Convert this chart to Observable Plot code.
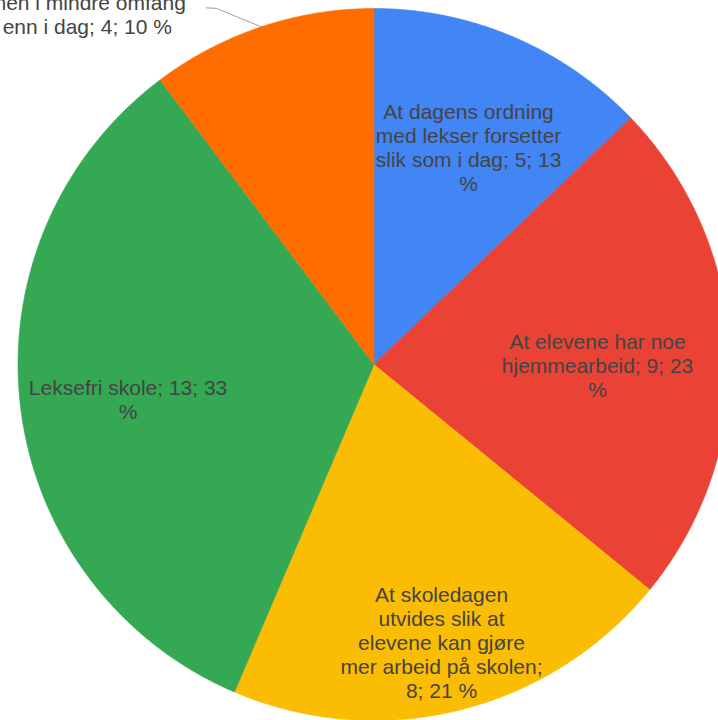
<!DOCTYPE html>
<html><head><meta charset="utf-8">
<script src="https://cdn.jsdelivr.net/npm/d3@7"></script>
<script src="https://cdn.jsdelivr.net/npm/@observablehq/plot@0.6"></script>
<style>html,body{margin:0;padding:0;background:#fff;overflow:hidden}</style>
</head><body><div id="chart"></div>
<script>
// ---- data ----
const categories = [
  "At dagens ordning med lekser forsetter slik som i dag",
  "At elevene har noe hjemmearbeid",
  "At skoledagen utvides slik at elevene kan gjøre mer arbeid på skolen",
  "Leksefri skole",
  "At det gis lekser, men i mindre omfang enn i dag"
];
const counts = [5, 9, 8, 13, 4];
const percents = [13, 23, 21, 33, 10];
const colors = ["#4285F4", "#EA4335", "#FBBC04", "#34A853", "#FF6D01"];

// ---- layout ----
const W = 718, H = 720;
const CX = 373.5, CY = 364, R = 356;
const FONT = 21, LH = 24;
const FAMILY = '"Liberation Sans", Arial, Helvetica, sans-serif';
const labelLayout = [
  {inside: true, radius: 0.664, shift: 0.5, wrap: 195},
  {inside: true, radius: 0.628, shift: 2.7, wrap: 195},
  {inside: true, radius: 0.807, shift: 0.25, wrap: 203.5},
  {inside: true, radius: 0.698, shift: -1.3, wrap: 210},
  {inside: false, wrap: 200, elbow: [-45, -18.5], end: [-10, -0.5], textDx: -119, lastLineDy: 19.3}
];

const ctx = document.createElement("canvas").getContext("2d");
ctx.font = `${FONT}px ${FAMILY}`;
function wrap(text, maxW) {
  const words = text.split(" ");
  const lines = []; let cur = "";
  for (const w of words) {
    const t = cur ? cur + " " + w : w;
    if (cur && ctx.measureText(t).width > maxW) { lines.push(cur); cur = w; } else cur = t;
  }
  if (cur) lines.push(cur);
  return lines;
}

const arcs = d3.pie().sort(null).value(d => d)(counts);
const polar = (a, r) => [CX + r * Math.sin(a), CY - r * Math.cos(a)];

const slices = [];
const textLines = [];
const leaders = [];
arcs.forEach((arc, i) => {
  const cat = categories[i];
  slices.push({cat, x: CX, y: CY});
  const n = Math.max(2, Math.ceil((arc.endAngle - arc.startAngle) / (Math.PI / 720)));
  for (let k = 0; k <= n; k++) {
    const a = arc.startAngle + (arc.endAngle - arc.startAngle) * k / n;
    const [x, y] = polar(a, R);
    slices.push({cat, x, y});
  }
  slices.push({cat, x: CX, y: CY});

  const L = labelLayout[i];
  const mid = (arc.startAngle + arc.endAngle) / 2;
  const lines = wrap(`${cat}; ${counts[i]}; ${percents[i]} %`, L.wrap);
  if (L.inside) {
    const [lx, ly] = polar(mid + L.shift * Math.PI / 180, R * L.radius);
    lines.forEach((t, j) => textLines.push({x: lx, y: ly + (j - (lines.length - 1) / 2) * LH, t}));
  } else {
    const [sx, sy] = polar(mid, R);
    const ex = sx + L.elbow[0], ey = sy + L.elbow[1];
    const fx = ex + L.end[0], fy = ey + L.end[1];
    leaders.push({x: sx, y: sy}, {x: ex, y: ey}, {x: fx, y: fy});
    const lx = fx + L.textDx, lastY = fy + L.lastLineDy;
    lines.forEach((t, j) => textLines.push({x: lx, y: lastY - (lines.length - 1 - j) * LH, t}));
  }
});

const chart = Plot.plot({
  width: W, height: H, margin: 0,
  x: {domain: [0, W], axis: null},
  y: {domain: [0, H], range: [0, H], axis: null},
  color: {domain: categories, range: colors},
  style: {fontFamily: FAMILY, background: "white", overflow: "visible"},
  marks: [
    Plot.line(slices, {x: "x", y: "y", z: "cat", fill: "cat", stroke: "cat", strokeWidth: 0.6, curve: "linear"}),
    Plot.line(leaders, {x: "x", y: "y", stroke: "#9e9e9e", strokeWidth: 1}),
    Plot.text(textLines, {x: "x", y: "y", text: "t", fill: "#444", fontSize: FONT, textAnchor: "middle", lineAnchor: "middle"})
  ]
});
document.getElementById("chart").appendChild(chart);
</script>
</body></html>
